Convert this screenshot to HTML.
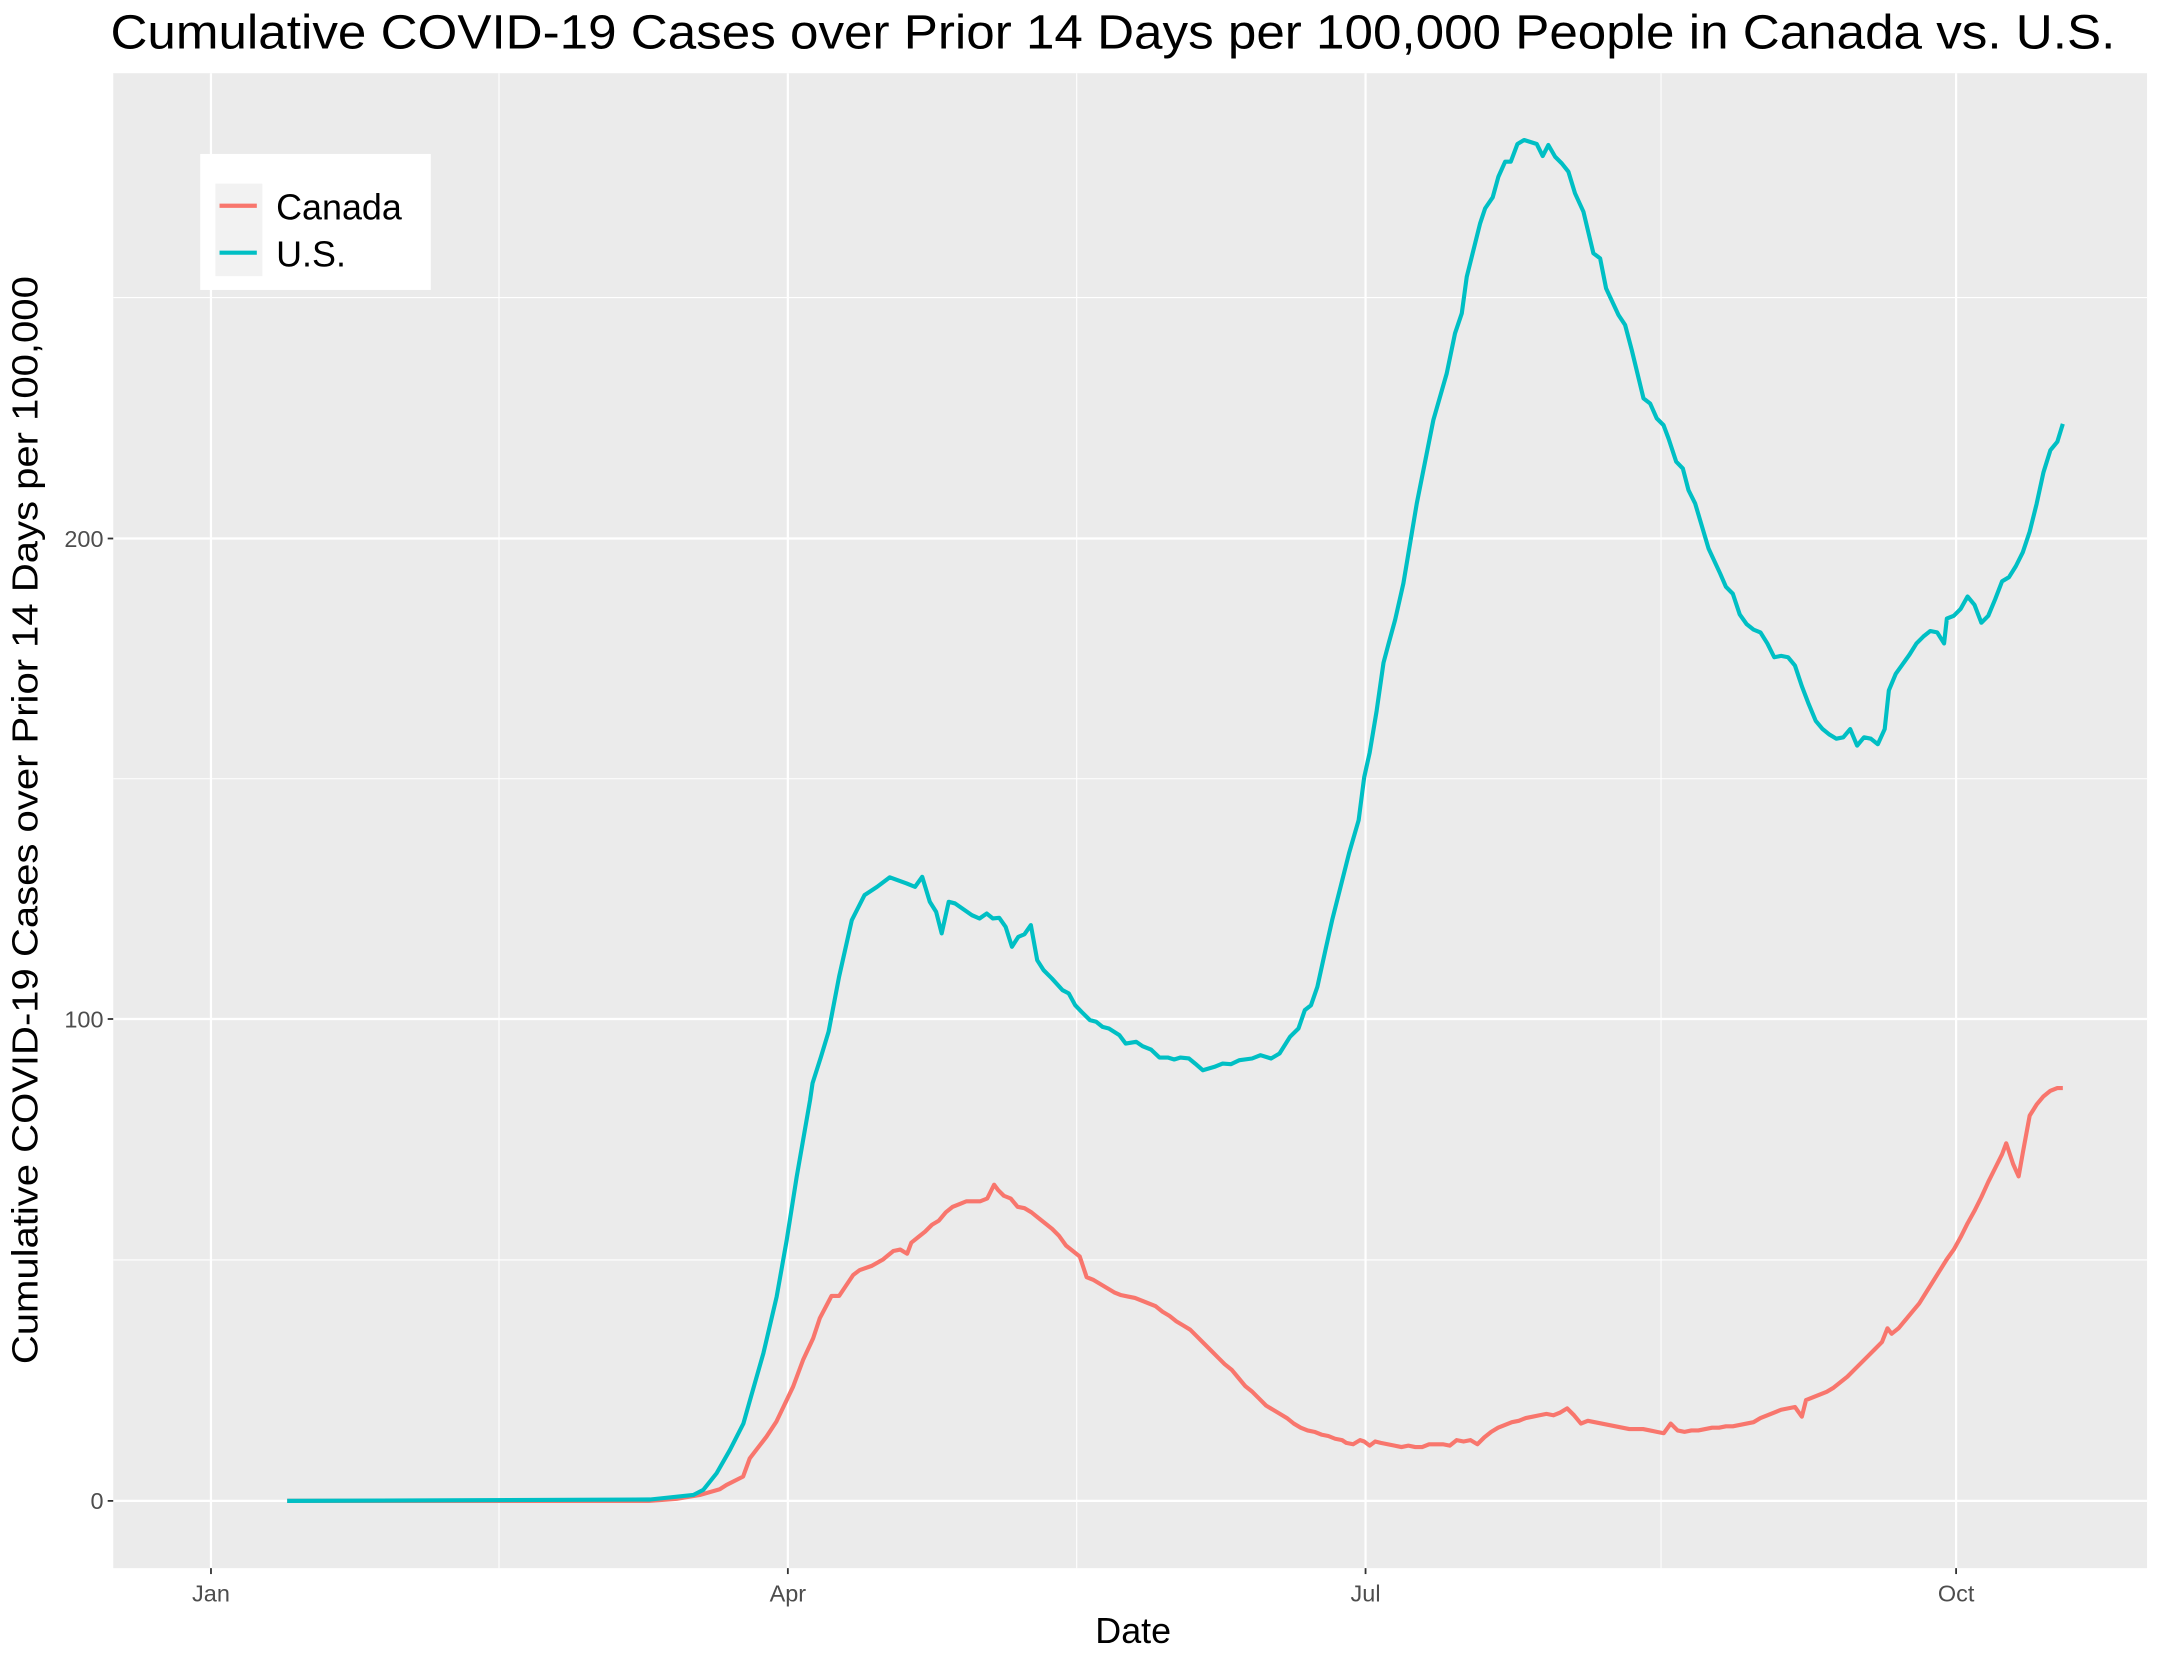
<!DOCTYPE html>
<html><head><meta charset="utf-8"><style>html,body{margin:0;padding:0;background:#fff}svg{display:block}</style></head>
<body>
<svg width="2165" height="1663" viewBox="0 0 1568 1204.4" xmlns="http://www.w3.org/2000/svg" font-family="Liberation Sans, Arial, sans-serif">
<rect x="0" y="0" width="1568" height="1204.4" fill="#fff"/>
<rect x="82" y="53" width="1473" height="1082.7" fill="#ebebeb"/>
<g stroke="#fff" stroke-width="0.8">
<line x1="82" x2="1555" y1="912.5" y2="912.5"/><line x1="82" x2="1555" y1="564" y2="564"/><line x1="82" x2="1555" y1="215.5" y2="215.5"/>
<line x1="361.4" x2="361.4" y1="53" y2="1135.7"/><line x1="779.8" x2="779.8" y1="53" y2="1135.7"/><line x1="1203" x2="1203" y1="53" y2="1135.7"/>
</g>
<g stroke="#fff" stroke-width="1.6">
<line x1="82" x2="1555" y1="1087" y2="1087"/><line x1="82" x2="1555" y1="738" y2="738"/><line x1="82" x2="1555" y1="390" y2="390"/>
<line x1="152.8" x2="152.8" y1="53" y2="1135.7"/><line x1="570.6" x2="570.6" y1="53" y2="1135.7"/><line x1="989" x2="989" y1="53" y2="1135.7"/><line x1="1416.7" x2="1416.7" y1="53" y2="1135.7"/>
</g>
<g stroke="#333" stroke-width="1.3">
<line x1="78" x2="82" y1="1087" y2="1087"/><line x1="78" x2="82" y1="738" y2="738"/><line x1="78" x2="82" y1="390" y2="390"/>
<line x1="152.8" x2="152.8" y1="1135.7" y2="1140"/><line x1="570.6" x2="570.6" y1="1135.7" y2="1140"/><line x1="989" x2="989" y1="1135.7" y2="1140"/><line x1="1416.7" x2="1416.7" y1="1135.7" y2="1140"/>
</g>
<g fill="#4d4d4d" font-size="17">
<text x="75" y="1093" text-anchor="end">0</text>
<text x="75" y="744" text-anchor="end">100</text>
<text x="75" y="396" text-anchor="end">200</text>
<text x="152.8" y="1160" text-anchor="middle">Jan</text>
<text x="570.6" y="1160" text-anchor="middle">Apr</text>
<text x="989" y="1160" text-anchor="middle">Jul</text>
<text x="1416.7" y="1160" text-anchor="middle">Oct</text>
</g>
<text x="80" y="35" font-size="35" fill="#000" textLength="1452" lengthAdjust="spacingAndGlyphs">Cumulative COVID-19 Cases over Prior 14 Days per 100,000 People in Canada vs. U.S.</text>
<text x="820.7" y="1190" font-size="26" fill="#000" text-anchor="middle">Date</text>
<text transform="translate(27,594) rotate(-90)" font-size="26" fill="#000" text-anchor="middle" textLength="788" lengthAdjust="spacingAndGlyphs">Cumulative COVID-19 Cases over Prior 14 Days per 100,000</text>
<rect x="145" y="111.5" width="167" height="98.5" fill="#fff"/>
<rect x="156" y="133" width="34" height="67" fill="#f2f2f2"/>
<line x1="159" x2="186" y1="149" y2="149" stroke="#F8766D" stroke-width="3"/>
<line x1="159" x2="186" y1="183" y2="183" stroke="#00BFC4" stroke-width="3"/>
<text x="200" y="159" font-size="26" fill="#000">Canada</text>
<text x="200" y="193" font-size="26" fill="#000">U.S.</text>
<g fill="none" stroke-width="3" stroke-linejoin="round">
<polyline stroke="#F8766D" points="208,1087 470,1087 490,1085.5 506.8,1082.7 521.3,1078.6 526.1,1075.5 538.2,1069.4 543,1056.2 555.1,1040.5 562.3,1029.6 574.4,1004.3 581.6,985 588.9,969.3 593.7,954.8 602.2,938.6 607.7,938.6 617.9,923.4 622.7,919.8 631.1,916.9 639.6,912.1 647,906 652,905 657,908 660,900 665,896 670,892 675,887 680,884 685,878 690,874 695,872 700,870 705,870 710,870 715,868 720,858 723,862 727,866 732,868 737,874 742,875 747,878 752,882 757,886 762,890 767,895 772,902 777,906 782,910 787,925 792,927 797,930 802,933 807,936 812,938 817,939 822,940 827,942 832,944 837,946 842,950 847,953 852,957 857,960 862,963 867,968 872,973 877,978 882,983 887,988 892,992 897,998 902,1004 907,1008 912,1013 917,1018 922,1021 927,1024 932,1027 937,1031 942,1034 947,1036 952,1037 957,1039 962,1040 967,1042 972,1043 975,1045 980,1046 985,1043 988,1044 992,1047 996,1044 1000,1045 1005,1046 1010,1047 1015,1048 1020,1047 1025,1048 1030,1048 1035,1046 1040,1046 1045,1046 1050,1047 1055,1043 1060,1044 1065,1043 1070,1046 1075,1041 1080,1037 1085,1034 1090,1032 1095,1030 1100,1029 1105,1027 1110,1026 1115,1025 1120,1024 1125,1025 1130,1023 1135,1020 1140,1025 1145,1031 1150,1029 1155,1030 1160,1031 1165,1032 1170,1033 1175,1034 1180,1035 1185,1035 1190,1035 1195,1036 1200,1037 1205,1038 1210,1031 1215,1036 1220,1037 1225,1036 1230,1036 1235,1035 1240,1034 1245,1034 1250,1033 1255,1033 1260,1032 1265,1031 1270,1030 1275,1027 1280,1025 1285,1023 1290,1021 1295,1020 1300,1019 1305,1026 1308,1014 1313,1012 1318,1010 1323,1008 1328,1005 1333,1001 1338,997 1343,992 1348,987 1353,982 1358,977 1363,972 1367,962 1370,966 1375,962 1380,956 1385,950 1390,944 1395,936 1400,928 1405,920 1410,912 1415,905 1420,896 1425,886 1430,877 1435,867 1440,856 1445,846 1450,836 1453,828 1458,843 1462,852 1465,835 1470,808 1475,800 1480,794 1485,790 1490,788 1494,788"/>
<polyline stroke="#00BFC4" points="208,1087 470.8,1086 502.2,1082.7 509.4,1079 519,1067 528.7,1050 538.4,1031 543.2,1014 552.9,980 562.5,939.1 569.8,898 577,852.3 586.7,796.7 588.5,784.4 594.6,765.3 600.1,747.2 607.7,707.4 616.9,666.4 626.1,648.3 635.2,642.3 644.4,635.4 656.6,639.8 662.7,642.3 667.9,635 673.4,653.1 678,660.4 682,676 687.1,653.1 691.7,654.3 703.9,662.8 709.4,665.2 714.6,661.6 719.1,665.2 723.7,664.7 728.3,671.2 732.9,685.7 737.5,678.5 742,676.6 746.6,670 751.2,695.4 755.8,702.6 761.9,708.7 769.5,717.1 774.1,719.5 778.7,728 783.3,732.8 789.4,738.8 793.9,740 798.5,743.7 803.1,744.9 810.7,749.7 815.3,755.8 822.9,754.5 827.5,757.7 833.6,760.1 839.7,765.9 845.8,765.9 850.4,767.3 855,765.9 861.1,766.6 865.6,770.3 871.1,775.1 879.4,772.7 885.5,770.3 891.6,770.7 897.7,767.8 906.8,766.6 912.9,764.2 920.6,766.6 926.7,763 934.3,750.9 940.4,744.9 945,731.6 949.5,728 954.1,714.7 960.2,686.9 964.8,666.4 970.9,642.3 977,618.1 984,594 988,563 992,545 997,515 1002,480 1006,465 1010.4,449 1016.4,422.5 1026.1,364.6 1038.1,304.2 1047.8,270.4 1053.8,241.4 1058.7,226.9 1062.3,200.4 1072,161.7 1075.6,150.9 1081.1,142.9 1085.2,128 1090.1,117.1 1094.2,117.1 1099,104.3 1103.8,101.4 1113,104.3 1117.3,113 1121.4,105 1126.3,113.5 1131.1,118.3 1135.9,124.3 1140.7,140 1146.8,153.3 1154,183.4 1158.9,187.1 1163.2,208.8 1172.2,228.1 1177,235.4 1181.8,253.5 1190.3,288.5 1195.1,292.2 1199.9,303 1204.8,307.9 1208.4,317.5 1214,334.4 1218.8,339.3 1222.9,355 1227.7,364.6 1237.4,397.2 1245.8,415.3 1250,425 1255,430 1260,445 1265,452 1270,456 1275,458 1280,466 1285,476 1290,475 1295,476 1300,482 1305,497 1310,510 1315,522 1320,528 1325,532 1330,535 1335,534 1340,528 1345,540 1350,534 1355,535 1360,539 1365,528 1368,500 1373,488 1378,481 1383,474 1388,466 1393,461 1398,457 1403,458 1408,466 1410,448 1415,446 1420,441 1425,432 1430,438 1435,451 1440,446 1445,434 1450,421 1455,418 1460,410 1465,400 1470,385 1475,365 1480,342 1485,326 1490,320 1494,307"/>
</g>
</svg>
</body></html>
